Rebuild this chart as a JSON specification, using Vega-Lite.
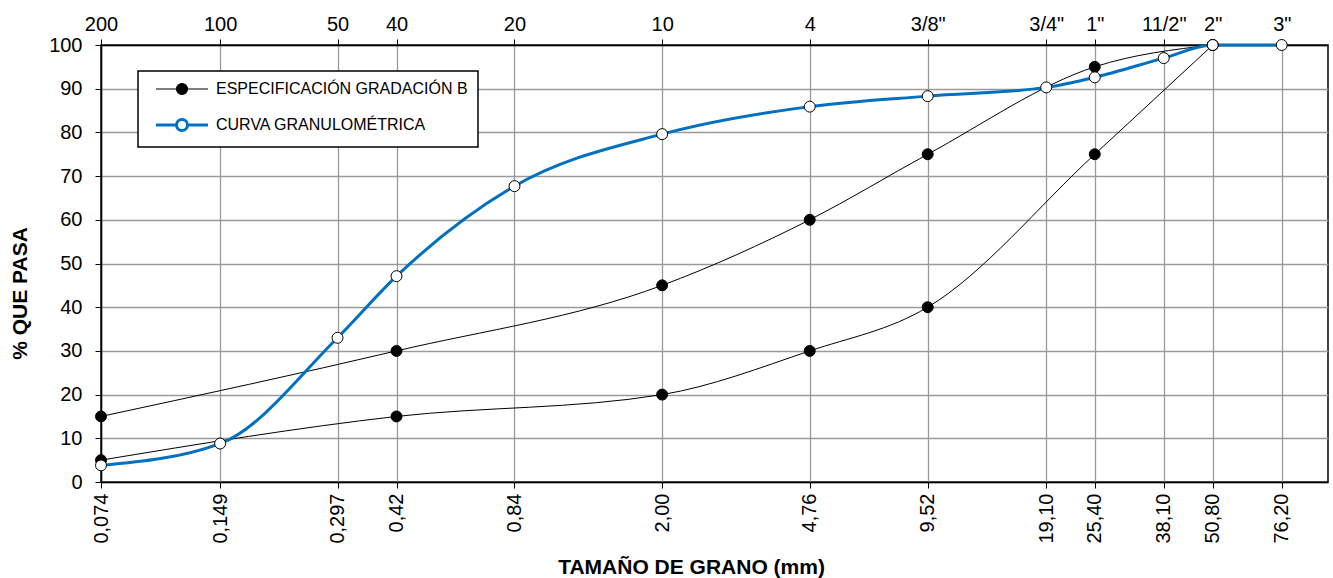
{
  "$schema": "https://vega.github.io/schema/vega-lite/v6.json",
  "width": 1227,
  "height": 437,
  "autosize": {"type": "none"},
  "padding": {"left": 101, "top": 45, "right": 5, "bottom": 96},
  "background": "white",
  "config": {
    "font": "Liberation Sans",
    "view": {"stroke": "black", "strokeWidth": 1.5},
    "axis": {
      "labelFont": "Liberation Sans", "labelFontSize": 20, "labelColor": "black",
      "titleFont": "Liberation Sans", "titleFontSize": 21, "titleFontWeight": "bold", "titleColor": "black",
      "domainColor": "black", "domainWidth": 1.5, "tickColor": "black", "tickWidth": 1, "tickSize": 6,
      "gridColor": "#9a9a9a", "gridWidth": 1.3, "gridOpacity": 1,
      "labelOverlap": false, "labelFlush": false
    }
  },
  "data": {
    "values": [
      {"serie": "ESPECIFICACIÓN GRADACIÓN B", "lim": "sup", "d": 0.074, "p": 15},
      {"serie": "ESPECIFICACIÓN GRADACIÓN B", "lim": "sup", "d": 0.42, "p": 30},
      {"serie": "ESPECIFICACIÓN GRADACIÓN B", "lim": "sup", "d": 2.0, "p": 45},
      {"serie": "ESPECIFICACIÓN GRADACIÓN B", "lim": "sup", "d": 4.76, "p": 60},
      {"serie": "ESPECIFICACIÓN GRADACIÓN B", "lim": "sup", "d": 9.52, "p": 75},
      {"serie": "ESPECIFICACIÓN GRADACIÓN B", "lim": "sup", "d": 25.4, "p": 95},
      {"serie": "ESPECIFICACIÓN GRADACIÓN B", "lim": "sup", "d": 50.8, "p": 100},
      {"serie": "ESPECIFICACIÓN GRADACIÓN B", "lim": "inf", "d": 0.074, "p": 5},
      {"serie": "ESPECIFICACIÓN GRADACIÓN B", "lim": "inf", "d": 0.42, "p": 15},
      {"serie": "ESPECIFICACIÓN GRADACIÓN B", "lim": "inf", "d": 2.0, "p": 20},
      {"serie": "ESPECIFICACIÓN GRADACIÓN B", "lim": "inf", "d": 4.76, "p": 30},
      {"serie": "ESPECIFICACIÓN GRADACIÓN B", "lim": "inf", "d": 9.52, "p": 40},
      {"serie": "ESPECIFICACIÓN GRADACIÓN B", "lim": "inf", "d": 25.4, "p": 75},
      {"serie": "ESPECIFICACIÓN GRADACIÓN B", "lim": "inf", "d": 50.8, "p": 100},
      {"serie": "CURVA GRANULOMÉTRICA", "lim": "curva", "d": 0.074, "p": 3.8},
      {"serie": "CURVA GRANULOMÉTRICA", "lim": "curva", "d": 0.149, "p": 8.8},
      {"serie": "CURVA GRANULOMÉTRICA", "lim": "curva", "d": 0.297, "p": 33},
      {"serie": "CURVA GRANULOMÉTRICA", "lim": "curva", "d": 0.42, "p": 47.1},
      {"serie": "CURVA GRANULOMÉTRICA", "lim": "curva", "d": 0.84, "p": 67.7},
      {"serie": "CURVA GRANULOMÉTRICA", "lim": "curva", "d": 2.0, "p": 79.6},
      {"serie": "CURVA GRANULOMÉTRICA", "lim": "curva", "d": 4.76, "p": 85.9},
      {"serie": "CURVA GRANULOMÉTRICA", "lim": "curva", "d": 9.52, "p": 88.3},
      {"serie": "CURVA GRANULOMÉTRICA", "lim": "curva", "d": 19.1, "p": 90.3},
      {"serie": "CURVA GRANULOMÉTRICA", "lim": "curva", "d": 25.4, "p": 92.6},
      {"serie": "CURVA GRANULOMÉTRICA", "lim": "curva", "d": 38.1, "p": 97},
      {"serie": "CURVA GRANULOMÉTRICA", "lim": "curva", "d": 50.8, "p": 100},
      {"serie": "CURVA GRANULOMÉTRICA", "lim": "curva", "d": 76.2, "p": 100}
    ]
  },
  "resolve": {"axis": {"x": "independent", "y": "independent"}},
  "layer": [
    {
      "transform": [{"filter": "datum.lim !== 'curva'"}],
      "mark": {"type": "line", "interpolate": "monotone", "strokeWidth": 1},
      "encoding": {
        "x": {
          "field": "d", "type": "quantitative",
          "scale": {"type": "log", "domain": [0.074, 100], "nice": false, "zero": false},
          "axis": {
            "orient": "bottom",
            "values": [0.074, 0.149, 0.297, 0.42, 0.84, 2, 4.76, 9.52, 19.1, 25.4, 38.1, 50.8, 76.2],
            "labelExpr": "['0,074','0,149','0,297','0,42','0,84','2,00','4,76','9,52','19,10','25,40','38,10','50,80','76,20'][indexof([0.074,0.149,0.297,0.42,0.84,2,4.76,9.52,19.1,25.4,38.1,50.8,76.2], datum.value)]",
            "labelAngle": -90,
            "labelPadding": 5,
            "grid": true,
            "title": "TAMAÑO DE GRANO (mm)",
            "titleX": 590,
            "titleY": 91,
            "titleBaseline": "alphabetic",
            "encode": {"ticks": {"update": {"y": {"value": -6}}}}
          }
        },
        "y": {
          "field": "p", "type": "quantitative",
          "scale": {"domain": [0, 100], "nice": false},
          "axis": {
            "orient": "left",
            "values": [0, 10, 20, 30, 40, 50, 60, 70, 80, 90, 100],
            "labelPadding": 13,
            "grid": true,
            "title": "% QUE PASA",
            "titleX": -81,
            "titleY": 248,
            "titleBaseline": "middle",
            "titleAngle": -90,
            "encode": {"ticks": {"update": {"x": {"value": 6}}}}
          }
        },
        "color": {
          "field": "serie", "type": "nominal",
          "scale": {"domain": ["ESPECIFICACIÓN GRADACIÓN B", "CURVA GRANULOMÉTRICA"], "range": ["black", "#0070C0"]},
          "legend": {
            "orient": "none", "legendX": 37, "legendY": 26, "title": null,
            "labelFont": "Liberation Sans", "labelFontSize": 16, "labelColor": "black", "labelLimit": 500,
            "labelExpr": "datum.label + '\u00a0\u00a0'",
            "symbolType": "M-2.6,0L-0.55,0M0.55,0L2.6,0M0.55,0A0.55,0.55,0,1,1,-0.55,0A0.55,0.55,0,1,1,0.55,0Z",
            "symbolSize": 400, "symbolOffset": 26, "labelOffset": 26,
            "padding": 10, "rowPadding": 16,
            "strokeColor": "black", "fillColor": "white",
            "encode": {
              "symbols": {"update": {
                "fill": {"signal": "datum.value === 'CURVA GRANULOMÉTRICA' ? 'white' : 'black'"},
                "stroke": {"signal": "datum.value === 'CURVA GRANULOMÉTRICA' ? '#0070C0' : '#333333'"},
                "strokeWidth": {"signal": "datum.value === 'CURVA GRANULOMÉTRICA' ? 3 : 1.2"},
                "opacity": {"value": 1}
              }},
              "legend": {"update": {"strokeWidth": {"value": 1.5}}}
            }
          }
        },
        "detail": {"field": "lim"}
      }
    },
    {
      "transform": [{"filter": "datum.lim === 'curva'"}],
      "mark": {"type": "line", "interpolate": "monotone", "strokeWidth": 3},
      "encoding": {
        "x": {
          "field": "d", "type": "quantitative",
          "scale": {"type": "log", "domain": [0.074, 100], "nice": false, "zero": false},
          "axis": {
            "orient": "top",
            "values": [0.074, 0.149, 0.297, 0.42, 0.84, 2, 4.76, 9.52, 19.1, 25.4, 38.1, 50.8, 76.2],
            "labelExpr": "['200','100','50','40','20','10','4','3/8\"','3/4\"','1\"','11/2\"','2\"','3\"'][indexof([0.074,0.149,0.297,0.42,0.84,2,4.76,9.52,19.1,25.4,38.1,50.8,76.2], datum.value)]",
            "labelAngle": 0,
            "labelBaseline": "alphabetic",
            "labelPadding": 9,
            "grid": false,
            "title": null,
            "encode": {"ticks": {"update": {"y": {"value": 6}}}}
          }
        },
        "y": {"field": "p", "type": "quantitative", "scale": {"domain": [0, 100], "nice": false}, "axis": null},
        "color": {"field": "serie", "type": "nominal", "scale": {"domain": ["ESPECIFICACIÓN GRADACIÓN B", "CURVA GRANULOMÉTRICA"], "range": ["black", "#0070C0"]}}
      }
    },
    {
      "mark": {"type": "point", "filled": true, "shape": "circle", "size": 120, "stroke": "black", "strokeWidth": 1, "opacity": 1},
      "encoding": {
        "x": {"field": "d", "type": "quantitative", "scale": {"type": "log", "domain": [0.074, 100], "nice": false, "zero": false}, "axis": null},
        "y": {"field": "p", "type": "quantitative", "scale": {"domain": [0, 100], "nice": false}, "axis": null},
        "fill": {
          "field": "serie", "type": "nominal",
          "scale": {"domain": ["ESPECIFICACIÓN GRADACIÓN B", "CURVA GRANULOMÉTRICA"], "range": ["black", "white"]},
          "legend": null
        }
      }
    }
  ]
}
